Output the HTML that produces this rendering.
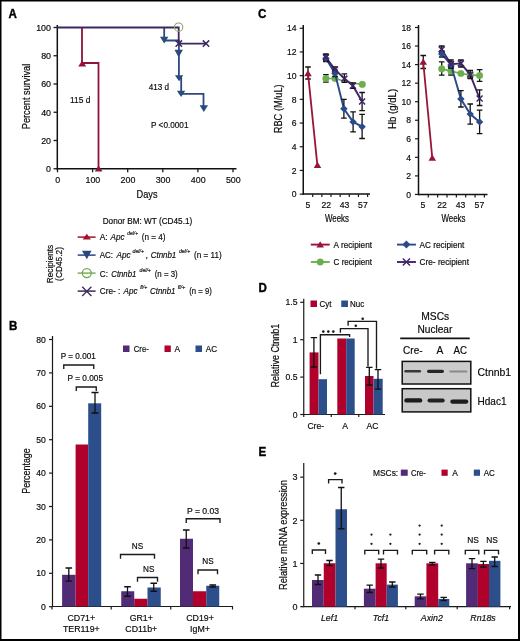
<!DOCTYPE html>
<html><head><meta charset="utf-8"><style>
html,body{margin:0;padding:0;background:#fff;}
svg{display:block;filter:blur(0.35px);font-family:"Liberation Sans", sans-serif;}
</style></head><body>
<svg width="520" height="641" viewBox="0 0 520 641">
<rect width="520" height="641" fill="#fff"/>
<rect x="0" y="0" width="520" height="1.5" fill="#000"/>
<rect x="0" y="0" width="1.5" height="641" fill="#000"/>
<rect x="518" y="0" width="2" height="641" fill="#000"/>
<rect x="0" y="639" width="520" height="2" fill="#000"/>
<text transform="translate(8.6 18.1) scale(1 1.08)" font-size="11.6" text-anchor="start" font-weight="bold" fill="#000" stroke="#000" stroke-width="0.35">A</text>
<line x1="57.3" y1="25" x2="57.3" y2="169.6" stroke="#111" stroke-width="1.5"/>
<line x1="56.5" y1="168.8" x2="236.5" y2="168.8" stroke="#111" stroke-width="1.5"/>
<line x1="53.5" y1="27.5" x2="57" y2="27.5" stroke="#1a1a1a" stroke-width="1.3"/>
<text x="51" y="30.8" font-size="8.9" text-anchor="end" stroke="#222" stroke-width="0.18" >100</text>
<line x1="53.5" y1="55.75" x2="57" y2="55.75" stroke="#1a1a1a" stroke-width="1.3"/>
<text x="51" y="59.05" font-size="8.9" text-anchor="end" stroke="#222" stroke-width="0.18" >80</text>
<line x1="53.5" y1="84.0" x2="57" y2="84.0" stroke="#1a1a1a" stroke-width="1.3"/>
<text x="51" y="87.3" font-size="8.9" text-anchor="end" stroke="#222" stroke-width="0.18" >60</text>
<line x1="53.5" y1="112.25" x2="57" y2="112.25" stroke="#1a1a1a" stroke-width="1.3"/>
<text x="51" y="115.55" font-size="8.9" text-anchor="end" stroke="#222" stroke-width="0.18" >40</text>
<line x1="53.5" y1="140.5" x2="57" y2="140.5" stroke="#1a1a1a" stroke-width="1.3"/>
<text x="51" y="143.8" font-size="8.9" text-anchor="end" stroke="#222" stroke-width="0.18" >20</text>
<line x1="53.5" y1="168.75" x2="57" y2="168.75" stroke="#1a1a1a" stroke-width="1.3"/>
<text x="51" y="172.05" font-size="8.9" text-anchor="end" stroke="#222" stroke-width="0.18" >0</text>
<line x1="57.5" y1="168.8" x2="57.5" y2="172.3" stroke="#1a1a1a" stroke-width="1.3"/>
<text x="57.8" y="183.3" font-size="8.9" text-anchor="middle" stroke="#222" stroke-width="0.18" >0</text>
<line x1="92.6" y1="168.8" x2="92.6" y2="172.3" stroke="#1a1a1a" stroke-width="1.3"/>
<text x="92.89999999999999" y="183.3" font-size="8.9" text-anchor="middle" stroke="#222" stroke-width="0.18" >100</text>
<line x1="127.7" y1="168.8" x2="127.7" y2="172.3" stroke="#1a1a1a" stroke-width="1.3"/>
<text x="128.0" y="183.3" font-size="8.9" text-anchor="middle" stroke="#222" stroke-width="0.18" >200</text>
<line x1="162.8" y1="168.8" x2="162.8" y2="172.3" stroke="#1a1a1a" stroke-width="1.3"/>
<text x="163.10000000000002" y="183.3" font-size="8.9" text-anchor="middle" stroke="#222" stroke-width="0.18" >300</text>
<line x1="197.9" y1="168.8" x2="197.9" y2="172.3" stroke="#1a1a1a" stroke-width="1.3"/>
<text x="198.20000000000002" y="183.3" font-size="8.9" text-anchor="middle" stroke="#222" stroke-width="0.18" >400</text>
<line x1="233.0" y1="168.8" x2="233.0" y2="172.3" stroke="#1a1a1a" stroke-width="1.3"/>
<text x="233.3" y="183.3" font-size="8.9" text-anchor="middle" stroke="#222" stroke-width="0.18" >500</text>
<text transform="translate(147 197.8) scale(1 1.12)" font-size="9.5" text-anchor="middle" textLength="21" lengthAdjust="spacingAndGlyphs" stroke="#222" stroke-width="0.18" >Days</text>
<text transform="translate(29.6 96.5) rotate(-90) scale(1 1.2)" font-size="9.3" text-anchor="middle" textLength="65.5" lengthAdjust="spacingAndGlyphs" stroke="#222" stroke-width="0.18" >Percent survival</text>
<path d="M82,27.5 V63 H98.5 V169" stroke="#8e1538" stroke-width="1.8" fill="none" />
<path d="M78.2,66.4 L86.2,66.4 L82.2,60.4 Z" fill="#8e1538"/>
<path d="M94.69999999999999,171.6 L102.5,171.6 L98.6,165.6 Z" fill="#8e1538"/>
<path d="M164.2,28 V40.5 H178.9 V78 H181.2 V93.8 H203.5 V108" stroke="#2b4a7e" stroke-width="1.8" fill="none" />
<path d="M160.0,36.8 L168.39999999999998,36.8 L164.2,43.6 Z" fill="#2b4a7e"/>
<path d="M174.5,49.8 L182.89999999999998,49.8 L178.7,57.4 Z" fill="#2b4a7e"/>
<path d="M174.9,75.3 L183.29999999999998,75.3 L179.1,81.2 Z" fill="#2b4a7e"/>
<path d="M176.9,90.8 L185.29999999999998,90.8 L181.1,97 Z" fill="#2b4a7e"/>
<path d="M199.60000000000002,105.3 L208.0,105.3 L203.8,112 Z" fill="#2b4a7e"/>
<path d="M57,27.5 H178.7 V43.6 H206" stroke="#3f2660" stroke-width="1.8" fill="none" />
<path d="M175.60000000000002,40.4 L182.0,46.800000000000004 M175.60000000000002,46.800000000000004 L182.0,40.4" stroke="#3f2660" stroke-width="1.5" fill="none" />
<path d="M202.8,40.4 L209.2,46.800000000000004 M202.8,46.800000000000004 L209.2,40.4" stroke="#3f2660" stroke-width="1.5" fill="none" />
<circle cx="178.6" cy="27.2" r="4.2" stroke="#86a86a" stroke-width="1.1" fill="none"/>
<text x="148.7" y="89.6" font-size="8.8" text-anchor="start" textLength="20.3" lengthAdjust="spacingAndGlyphs" stroke="#222" stroke-width="0.18" >413 d</text>
<text x="70" y="103.1" font-size="8.8" text-anchor="start" textLength="20.4" lengthAdjust="spacingAndGlyphs" stroke="#222" stroke-width="0.18" >115 d</text>
<text x="151" y="128.2" font-size="8.8" text-anchor="start" textLength="37.5" lengthAdjust="spacingAndGlyphs" stroke="#222" stroke-width="0.18" >P &lt;0.0001</text>
<text transform="translate(102.7 224.4) scale(1 1.05)" font-size="8.4" text-anchor="start" textLength="89.5" lengthAdjust="spacingAndGlyphs" stroke="#222" stroke-width="0.18" >Donor BM: WT (CD45.1)</text>
<line x1="77.7" y1="237.1" x2="95.6" y2="237.1" stroke="#a0122e" stroke-width="1.5"/>
<path d="M82.7,239.6 L90.89999999999999,239.6 L86.8,233.8 Z" fill="#a0122e"/>
<line x1="77.7" y1="255.1" x2="95.6" y2="255.1" stroke="#2a4680" stroke-width="1.5"/>
<path d="M82.0,250.7 L91.6,250.7 L86.8,259.2 Z" fill="#2a4680"/>
<line x1="77.7" y1="273.1" x2="95.6" y2="273.1" stroke="#72a852" stroke-width="1.4"/>
<circle cx="86.8" cy="273.1" r="4.5" stroke="#72a852" stroke-width="1.3" fill="none"/>
<line x1="77.7" y1="291.1" x2="95.6" y2="291.1" stroke="#3c2a5c" stroke-width="1.5"/>
<path d="M82.2,286.79999999999995 L91.39999999999999,296.0 M82.2,296.0 L91.39999999999999,286.79999999999995" stroke="#3c2a5c" stroke-width="1.3" fill="none" />
<text x="99.7" y="240.4" font-size="8.8" text-anchor="start" textLength="8" lengthAdjust="spacingAndGlyphs" stroke="#222" stroke-width="0.18" >A:</text>
<text x="110.6" y="240.4" font-size="8.8" text-anchor="start" font-style="italic" textLength="14" lengthAdjust="spacingAndGlyphs" stroke="#222" stroke-width="0.18" >Apc</text>
<text x="127.3" y="235.2" font-size="5.8" text-anchor="start" font-style="italic" textLength="10.7" lengthAdjust="spacingAndGlyphs" stroke="#222" stroke-width="0.18" >del/+</text>
<text x="141.7" y="240.4" font-size="8.8" text-anchor="start" textLength="23.8" lengthAdjust="spacingAndGlyphs" stroke="#222" stroke-width="0.18" >(n = 4)</text>
<text x="99.8" y="258.2" font-size="8.8" text-anchor="start" textLength="13.3" lengthAdjust="spacingAndGlyphs" stroke="#222" stroke-width="0.18" >AC:</text>
<text x="116.5" y="258.2" font-size="8.8" text-anchor="start" font-style="italic" textLength="14" lengthAdjust="spacingAndGlyphs" stroke="#222" stroke-width="0.18" >Apc</text>
<text x="132.5" y="253.2" font-size="5.8" text-anchor="start" font-style="italic" textLength="11.5" lengthAdjust="spacingAndGlyphs" stroke="#222" stroke-width="0.18" >del/+</text>
<text x="145.5" y="258.2" font-size="8.8" text-anchor="start" stroke="#222" stroke-width="0.18" >,</text>
<text x="150.7" y="258.2" font-size="8.8" text-anchor="start" font-style="italic" textLength="25.6" lengthAdjust="spacingAndGlyphs" stroke="#222" stroke-width="0.18" >Ctnnb1</text>
<text x="178.9" y="253.2" font-size="5.8" text-anchor="start" font-style="italic" textLength="11.3" lengthAdjust="spacingAndGlyphs" stroke="#222" stroke-width="0.18" >del/+</text>
<text x="194" y="258.2" font-size="8.8" text-anchor="start" textLength="27.7" lengthAdjust="spacingAndGlyphs" stroke="#222" stroke-width="0.18" >(n = 11)</text>
<text x="99.8" y="276.6" font-size="8.8" text-anchor="start" textLength="8.2" lengthAdjust="spacingAndGlyphs" stroke="#222" stroke-width="0.18" >C:</text>
<text x="111.3" y="276.6" font-size="8.8" text-anchor="start" font-style="italic" textLength="25" lengthAdjust="spacingAndGlyphs" stroke="#222" stroke-width="0.18" >Ctnnb1</text>
<text x="139.6" y="271.6" font-size="5.8" text-anchor="start" font-style="italic" textLength="11.2" lengthAdjust="spacingAndGlyphs" stroke="#222" stroke-width="0.18" >del/+</text>
<text x="154.7" y="276.6" font-size="8.8" text-anchor="start" textLength="23" lengthAdjust="spacingAndGlyphs" stroke="#222" stroke-width="0.18" >(n = 3)</text>
<text x="99.8" y="294.4" font-size="8.8" text-anchor="start" textLength="20.5" lengthAdjust="spacingAndGlyphs" stroke="#222" stroke-width="0.18" >Cre- :</text>
<text x="123.5" y="294.4" font-size="8.8" text-anchor="start" font-style="italic" textLength="14" lengthAdjust="spacingAndGlyphs" stroke="#222" stroke-width="0.18" >Apc</text>
<text x="140.2" y="289.4" font-size="5.8" text-anchor="start" font-style="italic" textLength="7" lengthAdjust="spacingAndGlyphs" stroke="#222" stroke-width="0.18" >fl/+</text>
<text x="150" y="294.4" font-size="8.8" text-anchor="start" font-style="italic" textLength="25.5" lengthAdjust="spacingAndGlyphs" stroke="#222" stroke-width="0.18" >Ctnnb1</text>
<text x="177.7" y="289.4" font-size="5.8" text-anchor="start" font-style="italic" textLength="7.6" lengthAdjust="spacingAndGlyphs" stroke="#222" stroke-width="0.18" >fl/+</text>
<text x="189.3" y="294.4" font-size="8.8" text-anchor="start" textLength="22.5" lengthAdjust="spacingAndGlyphs" stroke="#222" stroke-width="0.18" >(n = 9)</text>
<text transform="translate(52.6 264) rotate(-90) scale(1 1.15)" font-size="8.3" text-anchor="middle" textLength="38.4" lengthAdjust="spacingAndGlyphs" stroke="#222" stroke-width="0.18" >Recipients</text>
<text transform="translate(62 264) rotate(-90) scale(1 1.15)" font-size="8.3" text-anchor="middle" textLength="33.8" lengthAdjust="spacingAndGlyphs" stroke="#222" stroke-width="0.18" >(CD45.2)</text>
<text transform="translate(9.0 330.3) scale(1 1.08)" font-size="11.6" text-anchor="start" font-weight="bold" fill="#000" stroke="#000" stroke-width="0.35">B</text>
<line x1="52.5" y1="336" x2="52.5" y2="607" stroke="#1a1a1a" stroke-width="1.2"/>
<line x1="52" y1="606.5" x2="233" y2="606.5" stroke="#1a1a1a" stroke-width="1.2"/>
<line x1="49" y1="339.5" x2="52.5" y2="339.5" stroke="#1a1a1a" stroke-width="1.2"/>
<text x="45.8" y="342.6" font-size="8.6" text-anchor="end" stroke="#222" stroke-width="0.18" >80</text>
<line x1="49" y1="372.9" x2="52.5" y2="372.9" stroke="#1a1a1a" stroke-width="1.2"/>
<text x="45.8" y="376.0" font-size="8.6" text-anchor="end" stroke="#222" stroke-width="0.18" >70</text>
<line x1="49" y1="406.3" x2="52.5" y2="406.3" stroke="#1a1a1a" stroke-width="1.2"/>
<text x="45.8" y="409.40000000000003" font-size="8.6" text-anchor="end" stroke="#222" stroke-width="0.18" >60</text>
<line x1="49" y1="439.7" x2="52.5" y2="439.7" stroke="#1a1a1a" stroke-width="1.2"/>
<text x="45.8" y="442.8" font-size="8.6" text-anchor="end" stroke="#222" stroke-width="0.18" >50</text>
<line x1="49" y1="473.1" x2="52.5" y2="473.1" stroke="#1a1a1a" stroke-width="1.2"/>
<text x="45.8" y="476.20000000000005" font-size="8.6" text-anchor="end" stroke="#222" stroke-width="0.18" >40</text>
<line x1="49" y1="506.5" x2="52.5" y2="506.5" stroke="#1a1a1a" stroke-width="1.2"/>
<text x="45.8" y="509.6" font-size="8.6" text-anchor="end" stroke="#222" stroke-width="0.18" >30</text>
<line x1="49" y1="539.9" x2="52.5" y2="539.9" stroke="#1a1a1a" stroke-width="1.2"/>
<text x="45.8" y="543.0" font-size="8.6" text-anchor="end" stroke="#222" stroke-width="0.18" >20</text>
<line x1="49" y1="573.3" x2="52.5" y2="573.3" stroke="#1a1a1a" stroke-width="1.2"/>
<text x="45.8" y="576.4" font-size="8.6" text-anchor="end" stroke="#222" stroke-width="0.18" >10</text>
<line x1="49" y1="606.7" x2="52.5" y2="606.7" stroke="#1a1a1a" stroke-width="1.2"/>
<text x="45.8" y="609.8000000000001" font-size="8.6" text-anchor="end" stroke="#222" stroke-width="0.18" >0</text>
<line x1="52" y1="606.5" x2="52" y2="609.5" stroke="#1a1a1a" stroke-width="1.2"/>
<line x1="111.2" y1="606.5" x2="111.2" y2="609.5" stroke="#1a1a1a" stroke-width="1.2"/>
<line x1="170.75" y1="606.5" x2="170.75" y2="609.5" stroke="#1a1a1a" stroke-width="1.2"/>
<line x1="232.5" y1="606.5" x2="232.5" y2="609.5" stroke="#1a1a1a" stroke-width="1.2"/>
<rect x="62.1" y="574.8" width="13.499999999999993" height="31.700000000000045" fill="#512b76"/>
<rect x="75.6" y="444.5" width="12.600000000000009" height="162.0" fill="#b0002c"/>
<rect x="88.2" y="403.3" width="13.0" height="203.2" fill="#2c4f8c"/>
<rect x="121.25" y="591.25" width="13.0" height="15.25" fill="#512b76"/>
<rect x="134.25" y="598.75" width="13.25" height="7.75" fill="#b0002c"/>
<rect x="147.5" y="587.5" width="13.25" height="19.0" fill="#2c4f8c"/>
<rect x="180" y="538.75" width="13" height="67.75" fill="#512b76"/>
<rect x="193" y="591.25" width="13.25" height="15.25" fill="#b0002c"/>
<rect x="206.25" y="585.75" width="13.0" height="20.75" fill="#2c4f8c"/>
<path d="M68.8,568 V581.2 M65.5,568 H72.1 M65.5,581.2 H72.1" stroke="#111" stroke-width="1.3" fill="none" />
<path d="M95,392.5 V413 M91.5,392.5 H98.5 M91.5,413 H98.5" stroke="#111" stroke-width="1.3" fill="none" />
<path d="M127.5,586.75 V596.25 M124.2,586.75 H130.8 M124.2,596.25 H130.8" stroke="#111" stroke-width="1.3" fill="none" />
<path d="M153.75,583.25 V591.25 M150.45,583.25 H157.05 M150.45,591.25 H157.05" stroke="#111" stroke-width="1.3" fill="none" />
<path d="M186.25,530 V548 M182.95,530 H189.55 M182.95,548 H189.55" stroke="#111" stroke-width="1.3" fill="none" />
<path d="M212.75,585 V587 M209.45,585 H216.05 M209.45,587 H216.05" stroke="#111" stroke-width="1.3" fill="none" />
<path d="M63.75,369 V365 H93.75 V369" stroke="#1a1a1a" stroke-width="1.35" fill="none" />
<text x="78.25" y="359.2" font-size="8.2" text-anchor="middle" textLength="35" lengthAdjust="spacingAndGlyphs" stroke="#222" stroke-width="0.18" >P = 0.001</text>
<path d="M76.25,391 V387 H96.25 V391" stroke="#1a1a1a" stroke-width="1.35" fill="none" />
<text x="85.25" y="381.0" font-size="8.2" text-anchor="middle" textLength="35.5" lengthAdjust="spacingAndGlyphs" stroke="#222" stroke-width="0.18" >P = 0.005</text>
<path d="M120.5,558.75 V554.5 H154.5 V558.75" stroke="#1a1a1a" stroke-width="1.35" fill="none" />
<text x="137.5" y="549.2" font-size="8.2" text-anchor="middle" stroke="#222" stroke-width="0.18" >NS</text>
<path d="M137.5,581.75 V577.5 H157.5 V581.75" stroke="#1a1a1a" stroke-width="1.35" fill="none" />
<text x="148.75" y="571.7" font-size="8.2" text-anchor="middle" stroke="#222" stroke-width="0.18" >NS</text>
<path d="M186.25,523 V518.75 H220 V523" stroke="#1a1a1a" stroke-width="1.35" fill="none" />
<text x="203" y="513.5" font-size="8.2" text-anchor="middle" textLength="32.2" lengthAdjust="spacingAndGlyphs" stroke="#222" stroke-width="0.18" >P = 0.03</text>
<path d="M198,574.25 V570 H217.5 V574.25" stroke="#1a1a1a" stroke-width="1.35" fill="none" />
<text x="208" y="563.7" font-size="8.2" text-anchor="middle" stroke="#222" stroke-width="0.18" >NS</text>
<rect x="123" y="345.5" width="6.5" height="6.5" fill="#512b76"/>
<text x="133.75" y="351.8" font-size="8.4" text-anchor="start" textLength="15" lengthAdjust="spacingAndGlyphs" stroke="#222" stroke-width="0.18" >Cre-</text>
<rect x="164.5" y="345.5" width="6.3" height="6.5" fill="#b0002c"/>
<text x="174.5" y="351.8" font-size="8.4" text-anchor="start" stroke="#222" stroke-width="0.18" >A</text>
<rect x="195.5" y="345.5" width="6.5" height="6.5" fill="#2c4f8c"/>
<text x="205.75" y="351.8" font-size="8.4" text-anchor="start" textLength="11.3" lengthAdjust="spacingAndGlyphs" stroke="#222" stroke-width="0.18" >AC</text>
<text x="81.3" y="621.2" font-size="8.8" text-anchor="middle" stroke="#222" stroke-width="0.18" >CD71+</text>
<text x="81.3" y="632.0" font-size="8.8" text-anchor="middle" stroke="#222" stroke-width="0.18" >TER119+</text>
<text x="141.25" y="620.7" font-size="8.8" text-anchor="middle" stroke="#222" stroke-width="0.18" >GR1+</text>
<text x="141.25" y="632.0" font-size="8.8" text-anchor="middle" stroke="#222" stroke-width="0.18" >CD11b+</text>
<text x="200" y="620.7" font-size="8.8" text-anchor="middle" stroke="#222" stroke-width="0.18" >CD19+</text>
<text x="200" y="632.0" font-size="8.8" text-anchor="middle" stroke="#222" stroke-width="0.18" >IgM+</text>
<text transform="translate(29.6 471) rotate(-90) scale(1 1.2)" font-size="8.8" text-anchor="middle" textLength="45.5" lengthAdjust="spacingAndGlyphs" stroke="#222" stroke-width="0.18" >Percentage</text>
<text transform="translate(257.9 18.4) scale(1 1.08)" font-size="11.6" text-anchor="start" font-weight="bold" fill="#000" stroke="#000" stroke-width="0.35">C</text>
<line x1="303.25" y1="25" x2="303.25" y2="194.7" stroke="#111" stroke-width="1.5"/>
<line x1="302.75" y1="194" x2="370" y2="194" stroke="#111" stroke-width="1.5"/>
<line x1="299.75" y1="28.25" x2="303.25" y2="28.25" stroke="#1a1a1a" stroke-width="1.2"/>
<text x="296.5" y="31.45" font-size="8.6" text-anchor="end" stroke="#222" stroke-width="0.18" >14</text>
<line x1="299.75" y1="51.95" x2="303.25" y2="51.95" stroke="#1a1a1a" stroke-width="1.2"/>
<text x="296.5" y="55.150000000000006" font-size="8.6" text-anchor="end" stroke="#222" stroke-width="0.18" >12</text>
<line x1="299.75" y1="75.65" x2="303.25" y2="75.65" stroke="#1a1a1a" stroke-width="1.2"/>
<text x="296.5" y="78.85000000000001" font-size="8.6" text-anchor="end" stroke="#222" stroke-width="0.18" >10</text>
<line x1="299.75" y1="99.35" x2="303.25" y2="99.35" stroke="#1a1a1a" stroke-width="1.2"/>
<text x="296.5" y="102.55" font-size="8.6" text-anchor="end" stroke="#222" stroke-width="0.18" >8</text>
<line x1="299.75" y1="123.05" x2="303.25" y2="123.05" stroke="#1a1a1a" stroke-width="1.2"/>
<text x="296.5" y="126.25" font-size="8.6" text-anchor="end" stroke="#222" stroke-width="0.18" >6</text>
<line x1="299.75" y1="146.75" x2="303.25" y2="146.75" stroke="#1a1a1a" stroke-width="1.2"/>
<text x="296.5" y="149.95" font-size="8.6" text-anchor="end" stroke="#222" stroke-width="0.18" >4</text>
<line x1="299.75" y1="170.45" x2="303.25" y2="170.45" stroke="#1a1a1a" stroke-width="1.2"/>
<text x="296.5" y="173.64999999999998" font-size="8.6" text-anchor="end" stroke="#222" stroke-width="0.18" >2</text>
<line x1="299.75" y1="194.15" x2="303.25" y2="194.15" stroke="#1a1a1a" stroke-width="1.2"/>
<text x="296.5" y="197.35" font-size="8.6" text-anchor="end" stroke="#222" stroke-width="0.18" >0</text>
<line x1="312.7" y1="194" x2="312.7" y2="197" stroke="#1a1a1a" stroke-width="1.2"/>
<line x1="321.84999999999997" y1="194" x2="321.84999999999997" y2="197" stroke="#1a1a1a" stroke-width="1.2"/>
<line x1="331.0" y1="194" x2="331.0" y2="197" stroke="#1a1a1a" stroke-width="1.2"/>
<line x1="340.15" y1="194" x2="340.15" y2="197" stroke="#1a1a1a" stroke-width="1.2"/>
<line x1="349.3" y1="194" x2="349.3" y2="197" stroke="#1a1a1a" stroke-width="1.2"/>
<line x1="358.45" y1="194" x2="358.45" y2="197" stroke="#1a1a1a" stroke-width="1.2"/>
<line x1="367.6" y1="194" x2="367.6" y2="197" stroke="#1a1a1a" stroke-width="1.2"/>
<text x="308" y="208.3" font-size="8.6" text-anchor="middle" stroke="#222" stroke-width="0.18" >5</text>
<text x="326.3" y="208.3" font-size="8.6" text-anchor="middle" stroke="#222" stroke-width="0.18" >22</text>
<text x="344.6" y="208.3" font-size="8.6" text-anchor="middle" stroke="#222" stroke-width="0.18" >43</text>
<text x="362.9" y="208.3" font-size="8.6" text-anchor="middle" stroke="#222" stroke-width="0.18" >57</text>
<text transform="translate(281.8 108.8) rotate(-90) scale(1 1.15)" font-size="9.3" text-anchor="middle" textLength="49" lengthAdjust="spacingAndGlyphs" stroke="#222" stroke-width="0.18" >RBC (M/uL)</text>
<text transform="translate(337 222.1) scale(1 1.2)" font-size="8.8" text-anchor="middle" textLength="24" lengthAdjust="spacingAndGlyphs" stroke="#222" stroke-width="0.18" >Weeks</text>
<line x1="418.5" y1="25" x2="418.5" y2="195.2" stroke="#111" stroke-width="1.5"/>
<line x1="418.0" y1="194.5" x2="487.5" y2="194.5" stroke="#111" stroke-width="1.5"/>
<line x1="415.0" y1="27.5" x2="418.5" y2="27.5" stroke="#1a1a1a" stroke-width="1.2"/>
<text x="411" y="30.7" font-size="8.6" text-anchor="end" stroke="#222" stroke-width="0.18" >18</text>
<line x1="415.0" y1="46.05" x2="418.5" y2="46.05" stroke="#1a1a1a" stroke-width="1.2"/>
<text x="411" y="49.25" font-size="8.6" text-anchor="end" stroke="#222" stroke-width="0.18" >16</text>
<line x1="415.0" y1="64.6" x2="418.5" y2="64.6" stroke="#1a1a1a" stroke-width="1.2"/>
<text x="411" y="67.8" font-size="8.6" text-anchor="end" stroke="#222" stroke-width="0.18" >14</text>
<line x1="415.0" y1="83.15" x2="418.5" y2="83.15" stroke="#1a1a1a" stroke-width="1.2"/>
<text x="411" y="86.35000000000001" font-size="8.6" text-anchor="end" stroke="#222" stroke-width="0.18" >12</text>
<line x1="415.0" y1="101.7" x2="418.5" y2="101.7" stroke="#1a1a1a" stroke-width="1.2"/>
<text x="411" y="104.9" font-size="8.6" text-anchor="end" stroke="#222" stroke-width="0.18" >10</text>
<line x1="415.0" y1="120.25" x2="418.5" y2="120.25" stroke="#1a1a1a" stroke-width="1.2"/>
<text x="411" y="123.45" font-size="8.6" text-anchor="end" stroke="#222" stroke-width="0.18" >8</text>
<line x1="415.0" y1="138.8" x2="418.5" y2="138.8" stroke="#1a1a1a" stroke-width="1.2"/>
<text x="411" y="142.0" font-size="8.6" text-anchor="end" stroke="#222" stroke-width="0.18" >6</text>
<line x1="415.0" y1="157.35" x2="418.5" y2="157.35" stroke="#1a1a1a" stroke-width="1.2"/>
<text x="411" y="160.54999999999998" font-size="8.6" text-anchor="end" stroke="#222" stroke-width="0.18" >4</text>
<line x1="415.0" y1="175.9" x2="418.5" y2="175.9" stroke="#1a1a1a" stroke-width="1.2"/>
<text x="411" y="179.1" font-size="8.6" text-anchor="end" stroke="#222" stroke-width="0.18" >2</text>
<line x1="415.0" y1="194.45000000000002" x2="418.5" y2="194.45000000000002" stroke="#1a1a1a" stroke-width="1.2"/>
<text x="411" y="197.65" font-size="8.6" text-anchor="end" stroke="#222" stroke-width="0.18" >0</text>
<line x1="428.3" y1="194.5" x2="428.3" y2="197.5" stroke="#1a1a1a" stroke-width="1.2"/>
<line x1="437.65000000000003" y1="194.5" x2="437.65000000000003" y2="197.5" stroke="#1a1a1a" stroke-width="1.2"/>
<line x1="447.0" y1="194.5" x2="447.0" y2="197.5" stroke="#1a1a1a" stroke-width="1.2"/>
<line x1="456.35" y1="194.5" x2="456.35" y2="197.5" stroke="#1a1a1a" stroke-width="1.2"/>
<line x1="465.7" y1="194.5" x2="465.7" y2="197.5" stroke="#1a1a1a" stroke-width="1.2"/>
<line x1="475.05" y1="194.5" x2="475.05" y2="197.5" stroke="#1a1a1a" stroke-width="1.2"/>
<line x1="484.4" y1="194.5" x2="484.4" y2="197.5" stroke="#1a1a1a" stroke-width="1.2"/>
<text x="423" y="208.3" font-size="8.6" text-anchor="middle" stroke="#222" stroke-width="0.18" >5</text>
<text x="442" y="208.3" font-size="8.6" text-anchor="middle" stroke="#222" stroke-width="0.18" >22</text>
<text x="460.6" y="208.3" font-size="8.6" text-anchor="middle" stroke="#222" stroke-width="0.18" >43</text>
<text x="479.4" y="208.3" font-size="8.6" text-anchor="middle" stroke="#222" stroke-width="0.18" >57</text>
<text transform="translate(396 108.9) rotate(-90) scale(1 1.15)" font-size="9.3" text-anchor="middle" textLength="40" lengthAdjust="spacingAndGlyphs" stroke="#222" stroke-width="0.18" >Hb (g/dL)</text>
<text transform="translate(453.5 222.1) scale(1 1.2)" font-size="8.8" text-anchor="middle" textLength="24" lengthAdjust="spacingAndGlyphs" stroke="#222" stroke-width="0.18" >Weeks</text>
<path d="M308,67 V79 M305.2,67 H310.8 M305.2,79 H310.8" stroke="#111" stroke-width="1.3" fill="none" />
<path d="M308,73.1 L317.4,165.6" stroke="#9a1438" stroke-width="1.8" fill="none" />
<path d="M304.2,76.3 L311.8,76.3 L308,69.9 Z" fill="#9a1438"/>
<path d="M313.7,168.10000000000002 L321.3,168.10000000000002 L317.5,161.70000000000002 Z" fill="#9a1438"/>
<path d="M325.9,78.5 L335,78.5 L343.9,81 L352.9,83 L362.3,84.4" stroke="#6cae4e" stroke-width="1.7" fill="none" />
<path d="M325.9,74.6 V82.2 M323.09999999999997,74.6 H328.7 M323.09999999999997,82.2 H328.7" stroke="#111" stroke-width="1.3" fill="none" />
<circle cx="325.9" cy="78.5" r="3.3" stroke="#6cae4e" stroke-width="0.4" fill="#6cae4e"/>
<circle cx="335" cy="78.5" r="3.3" stroke="#6cae4e" stroke-width="0.4" fill="#6cae4e"/>
<circle cx="362.3" cy="84.4" r="3.3" stroke="#6cae4e" stroke-width="0.4" fill="#6cae4e"/>
<path d="M325.9,58.3 L335,73.4 L343.9,108.8 L353.1,121.9 L362.1,126.7" stroke="#2b4a88" stroke-width="1.9" fill="none" />
<path d="M325.9,57.2 L335,69.5 L344.4,78.6 L352.9,85.7 L362.1,101.5" stroke="#3f2468" stroke-width="1.9" fill="none" />
<path d="M325.9,55 V61.5 M323.09999999999997,55 H328.7 M323.09999999999997,61.5 H328.7" stroke="#111" stroke-width="1.3" fill="none" />
<path d="M335,70 V76.5 M332.2,70 H337.8 M332.2,76.5 H337.8" stroke="#111" stroke-width="1.3" fill="none" />
<path d="M343.9,99.4 V118.1 M341.09999999999997,99.4 H346.7 M341.09999999999997,118.1 H346.7" stroke="#111" stroke-width="1.3" fill="none" />
<path d="M353.1,111.8 V131.8 M350.3,111.8 H355.90000000000003 M350.3,131.8 H355.90000000000003" stroke="#111" stroke-width="1.3" fill="none" />
<path d="M362.1,114.4 V138.5 M359.3,114.4 H364.90000000000003 M359.3,138.5 H364.90000000000003" stroke="#111" stroke-width="1.3" fill="none" />
<path d="M325.9,54 V60.5 M323.09999999999997,54 H328.7 M323.09999999999997,60.5 H328.7" stroke="#111" stroke-width="1.3" fill="none" />
<path d="M335,66.8 V72 M332.2,66.8 H337.8 M332.2,72 H337.8" stroke="#111" stroke-width="1.3" fill="none" />
<path d="M344.4,73.9 V82.4 M341.59999999999997,73.9 H347.2 M341.59999999999997,82.4 H347.2" stroke="#111" stroke-width="1.3" fill="none" />
<path d="M352.9,82.8 V88.4 M350.09999999999997,82.8 H355.7 M350.09999999999997,88.4 H355.7" stroke="#111" stroke-width="1.3" fill="none" />
<path d="M362.1,92.5 V110.7 M359.3,92.5 H364.90000000000003 M359.3,110.7 H364.90000000000003" stroke="#111" stroke-width="1.3" fill="none" />
<path d="M325.9,54.599999999999994 L329.59999999999997,58.3 L325.9,62.0 L322.2,58.3 Z" fill="#2b4a88"/>
<path d="M335,69.7 L338.7,73.4 L335,77.10000000000001 L331.3,73.4 Z" fill="#2b4a88"/>
<path d="M343.9,105.1 L347.59999999999997,108.8 L343.9,112.5 L340.2,108.8 Z" fill="#2b4a88"/>
<path d="M353.1,118.2 L356.8,121.9 L353.1,125.60000000000001 L349.40000000000003,121.9 Z" fill="#2b4a88"/>
<path d="M362.1,123.0 L365.8,126.7 L362.1,130.4 L358.40000000000003,126.7 Z" fill="#2b4a88"/>
<path d="M322.9,54.2 L328.9,60.2 M322.9,60.2 L328.9,54.2" stroke="#3f2468" stroke-width="1.5" fill="none" />
<path d="M332.0,66.5 L338.0,72.5 M332.0,72.5 L338.0,66.5" stroke="#3f2468" stroke-width="1.5" fill="none" />
<path d="M341.4,75.6 L347.4,81.6 M341.4,81.6 L347.4,75.6" stroke="#3f2468" stroke-width="1.5" fill="none" />
<path d="M349.9,82.7 L355.9,88.7 M349.9,88.7 L355.9,82.7" stroke="#3f2468" stroke-width="1.5" fill="none" />
<path d="M359.1,98.5 L365.1,104.5 M359.1,104.5 L365.1,98.5" stroke="#3f2468" stroke-width="1.5" fill="none" />
<path d="M423.25,55.5 V68.5 M420.45,55.5 H426.05 M420.45,68.5 H426.05" stroke="#111" stroke-width="1.3" fill="none" />
<path d="M423.25,62 L432.3,158.3" stroke="#9a1438" stroke-width="1.8" fill="none" />
<path d="M419.45,64.8 L427.05,64.8 L423.25,58.4 Z" fill="#9a1438"/>
<path d="M428.5,160.8 L436.1,160.8 L432.3,154.4 Z" fill="#9a1438"/>
<path d="M441.7,68.9 L451,71.2 L460.9,73.5 L470.2,74.8 L479.6,75.6" stroke="#6cae4e" stroke-width="1.7" fill="none" />
<path d="M441.7,61.8 V75.1 M438.9,61.8 H444.5 M438.9,75.1 H444.5" stroke="#111" stroke-width="1.3" fill="none" />
<path d="M451,67 V75 M448.2,67 H453.8 M448.2,75 H453.8" stroke="#111" stroke-width="1.3" fill="none" />
<path d="M479.6,69.6 V81.3 M476.8,69.6 H482.40000000000003 M476.8,81.3 H482.40000000000003" stroke="#111" stroke-width="1.3" fill="none" />
<circle cx="441.7" cy="68.9" r="3.3" stroke="#6cae4e" stroke-width="0.4" fill="#6cae4e"/>
<circle cx="451" cy="71.2" r="3.3" stroke="#6cae4e" stroke-width="0.4" fill="#6cae4e"/>
<circle cx="460.9" cy="73.5" r="3.3" stroke="#6cae4e" stroke-width="0.4" fill="#6cae4e"/>
<circle cx="470.2" cy="74.8" r="3.3" stroke="#6cae4e" stroke-width="0.4" fill="#6cae4e"/>
<circle cx="479.6" cy="75.6" r="3.3" stroke="#6cae4e" stroke-width="0.4" fill="#6cae4e"/>
<path d="M441.7,54 L451,65 L460.9,99 L470.2,114.1 L479.6,121.9" stroke="#2b4a88" stroke-width="1.9" fill="none" />
<path d="M441.7,49.4 L451,64.2 L460.9,63.4 L470.2,74.6 L479.6,98.5" stroke="#3f2468" stroke-width="1.9" fill="none" />
<path d="M441.7,51 V57 M438.9,51 H444.5 M438.9,57 H444.5" stroke="#111" stroke-width="1.3" fill="none" />
<path d="M451,62 V68 M448.2,62 H453.8 M448.2,68 H453.8" stroke="#111" stroke-width="1.3" fill="none" />
<path d="M460.9,90.7 V107 M458.09999999999997,90.7 H463.7 M458.09999999999997,107 H463.7" stroke="#111" stroke-width="1.3" fill="none" />
<path d="M470.2,104 V124.2 M467.4,104 H473.0 M467.4,124.2 H473.0" stroke="#111" stroke-width="1.3" fill="none" />
<path d="M479.6,110.2 V133.6 M476.8,110.2 H482.40000000000003 M476.8,133.6 H482.40000000000003" stroke="#111" stroke-width="1.3" fill="none" />
<path d="M441.7,46 V52.5 M438.9,46 H444.5 M438.9,52.5 H444.5" stroke="#111" stroke-width="1.3" fill="none" />
<path d="M451,60 V68 M448.2,60 H453.8 M448.2,68 H453.8" stroke="#111" stroke-width="1.3" fill="none" />
<path d="M460.9,60 V67 M458.09999999999997,60 H463.7 M458.09999999999997,67 H463.7" stroke="#111" stroke-width="1.3" fill="none" />
<path d="M470.2,70.5 V78.5 M467.4,70.5 H473.0 M467.4,78.5 H473.0" stroke="#111" stroke-width="1.3" fill="none" />
<path d="M479.6,89.9 V105.5 M476.8,89.9 H482.40000000000003 M476.8,105.5 H482.40000000000003" stroke="#111" stroke-width="1.3" fill="none" />
<path d="M441.7,50.3 L445.4,54 L441.7,57.7 L438.0,54 Z" fill="#2b4a88"/>
<path d="M451,61.3 L454.7,65 L451,68.7 L447.3,65 Z" fill="#2b4a88"/>
<path d="M460.9,95.3 L464.59999999999997,99 L460.9,102.7 L457.2,99 Z" fill="#2b4a88"/>
<path d="M470.2,110.39999999999999 L473.9,114.1 L470.2,117.8 L466.5,114.1 Z" fill="#2b4a88"/>
<path d="M479.6,118.2 L483.3,121.9 L479.6,125.60000000000001 L475.90000000000003,121.9 Z" fill="#2b4a88"/>
<path d="M438.7,46.4 L444.7,52.4 M438.7,52.4 L444.7,46.4" stroke="#3f2468" stroke-width="1.5" fill="none" />
<path d="M448.0,61.2 L454.0,67.2 M448.0,67.2 L454.0,61.2" stroke="#3f2468" stroke-width="1.5" fill="none" />
<path d="M457.9,60.4 L463.9,66.4 M457.9,66.4 L463.9,60.4" stroke="#3f2468" stroke-width="1.5" fill="none" />
<path d="M467.2,71.6 L473.2,77.6 M467.2,77.6 L473.2,71.6" stroke="#3f2468" stroke-width="1.5" fill="none" />
<path d="M476.6,95.5 L482.6,101.5 M476.6,101.5 L482.6,95.5" stroke="#3f2468" stroke-width="1.5" fill="none" />
<line x1="310.8" y1="244.6" x2="329.7" y2="244.6" stroke="#9a1438" stroke-width="1.9"/>
<path d="M316.4,247.60000000000002 L324.0,247.60000000000002 L320.2,241.20000000000002 Z" fill="#9a1438"/>
<text x="333.6" y="247.8" font-size="8.6" text-anchor="start" textLength="38.4" lengthAdjust="spacingAndGlyphs" stroke="#222" stroke-width="0.18" >A recipient</text>
<line x1="397" y1="244.6" x2="415.9" y2="244.6" stroke="#2b4a88" stroke-width="1.9"/>
<path d="M406.4,240.6 L410.4,244.6 L406.4,248.6 L402.4,244.6 Z" fill="#2b4a88"/>
<text x="419.6" y="247.8" font-size="8.6" text-anchor="start" textLength="44.8" lengthAdjust="spacingAndGlyphs" stroke="#222" stroke-width="0.18" >AC recipient</text>
<line x1="310.8" y1="262" x2="329.7" y2="262" stroke="#6cae4e" stroke-width="1.9"/>
<circle cx="320.2" cy="262" r="3.3" stroke="#6cae4e" stroke-width="0.5" fill="#6cae4e"/>
<text x="333.6" y="265.2" font-size="8.6" text-anchor="start" textLength="38.4" lengthAdjust="spacingAndGlyphs" stroke="#222" stroke-width="0.18" >C recipient</text>
<line x1="397" y1="262" x2="415.9" y2="262" stroke="#3f2468" stroke-width="1.9"/>
<path d="M402.79999999999995,258.4 L410.0,265.6 M402.79999999999995,265.6 L410.0,258.4" stroke="#3f2468" stroke-width="1.4" fill="none" />
<text x="419.6" y="265.2" font-size="8.6" text-anchor="start" textLength="49.4" lengthAdjust="spacingAndGlyphs" stroke="#222" stroke-width="0.18" >Cre- recipient</text>
<text transform="translate(258.4 292) scale(1 1.08)" font-size="11.6" text-anchor="start" font-weight="bold" fill="#000" stroke="#000" stroke-width="0.35">D</text>
<line x1="303.75" y1="298.75" x2="303.75" y2="414.5" stroke="#1a1a1a" stroke-width="1.2"/>
<line x1="301.5" y1="414.5" x2="385" y2="414.5" stroke="#1a1a1a" stroke-width="1.2"/>
<line x1="300.25" y1="302.3" x2="303.75" y2="302.3" stroke="#1a1a1a" stroke-width="1.2"/>
<text x="297.5" y="305.40000000000003" font-size="8.6" text-anchor="end" stroke="#222" stroke-width="0.18" >1.5</text>
<line x1="300.25" y1="339.7" x2="303.75" y2="339.7" stroke="#1a1a1a" stroke-width="1.2"/>
<text x="297.5" y="342.8" font-size="8.6" text-anchor="end" stroke="#222" stroke-width="0.18" >1</text>
<line x1="300.25" y1="377.1" x2="303.75" y2="377.1" stroke="#1a1a1a" stroke-width="1.2"/>
<text x="297.5" y="380.20000000000005" font-size="8.6" text-anchor="end" stroke="#222" stroke-width="0.18" >0.5</text>
<line x1="300.25" y1="414.5" x2="303.75" y2="414.5" stroke="#1a1a1a" stroke-width="1.2"/>
<text x="297.5" y="417.6" font-size="8.6" text-anchor="end" stroke="#222" stroke-width="0.18" >0</text>
<line x1="303.75" y1="414.5" x2="303.75" y2="417" stroke="#1a1a1a" stroke-width="1.2"/>
<line x1="331.25" y1="414.5" x2="331.25" y2="417" stroke="#1a1a1a" stroke-width="1.2"/>
<line x1="358.75" y1="414.5" x2="358.75" y2="417" stroke="#1a1a1a" stroke-width="1.2"/>
<rect x="309.6" y="352.4" width="8.899999999999977" height="62.10000000000002" fill="#b0002c"/>
<rect x="318.5" y="379.2" width="8.5" height="35.30000000000001" fill="#2c4f8c"/>
<rect x="337.3" y="338.5" width="8.899999999999977" height="76.0" fill="#b0002c"/>
<rect x="346.2" y="338.5" width="8.5" height="76.0" fill="#2c4f8c"/>
<rect x="365" y="376" width="8.5" height="38.5" fill="#b0002c"/>
<rect x="373.5" y="378.8" width="9.199999999999989" height="35.69999999999999" fill="#2c4f8c"/>
<path d="M313.9,337.6 V367 M310.7,337.6 H317.09999999999997 M310.7,367 H317.09999999999997" stroke="#111" stroke-width="1.3" fill="none" />
<path d="M369.3,367.3 V385 M366.1,367.3 H372.5 M366.1,385 H372.5" stroke="#111" stroke-width="1.3" fill="none" />
<path d="M378,369.6 V389.2 M374.8,369.6 H381.2 M374.8,389.2 H381.2" stroke="#111" stroke-width="1.3" fill="none" />
<path d="M320.4,374.2 V334.7 H349.6 V337" stroke="#1a1a1a" stroke-width="1.35" fill="none" />
<path d="M340.4,332.8 V328.6 H368 V366.5" stroke="#1a1a1a" stroke-width="1.35" fill="none" />
<path d="M348.1,325.8 V321.4 H376.5 V368.8" stroke="#1a1a1a" stroke-width="1.35" fill="none" />
<circle cx="323.3" cy="331.6" r="1.3" fill="#1a1a1a"/>
<circle cx="328.3" cy="331.6" r="1.3" fill="#1a1a1a"/>
<circle cx="333.3" cy="331.6" r="1.3" fill="#1a1a1a"/>
<circle cx="355.8" cy="325.8" r="1.3" fill="#1a1a1a"/>
<circle cx="362.7" cy="318.8" r="1.3" fill="#1a1a1a"/>
<rect x="310.5" y="300.5" width="6.5" height="6.5" fill="#b0002c"/>
<text x="319.5" y="307.0" font-size="8.6" text-anchor="start" textLength="12" lengthAdjust="spacingAndGlyphs" stroke="#222" stroke-width="0.18" >Cyt</text>
<rect x="341.25" y="300.5" width="6.7" height="6.5" fill="#2c4f8c"/>
<text x="350" y="307.0" font-size="8.6" text-anchor="start" textLength="14.2" lengthAdjust="spacingAndGlyphs" stroke="#222" stroke-width="0.18" >Nuc</text>
<text x="315.75" y="429.3" font-size="8.6" text-anchor="middle" stroke="#222" stroke-width="0.18" >Cre-</text>
<text x="345" y="429.3" font-size="8.6" text-anchor="middle" stroke="#222" stroke-width="0.18" >A</text>
<text x="372.5" y="429.3" font-size="8.6" text-anchor="middle" stroke="#222" stroke-width="0.18" >AC</text>
<text transform="translate(278.6 355.6) rotate(-90) scale(1 1.12)" font-size="9" text-anchor="middle" textLength="63.7" lengthAdjust="spacingAndGlyphs" stroke="#222" stroke-width="0.18" >Relative Ctnnb1</text>
<text transform="translate(435.2 320.2) scale(1 1.12)" font-size="10" text-anchor="middle" textLength="28" lengthAdjust="spacingAndGlyphs" stroke="#222" stroke-width="0.18" >MSCs</text>
<text transform="translate(434.9 332.8) scale(1 1.12)" font-size="10" text-anchor="middle" textLength="35" lengthAdjust="spacingAndGlyphs" stroke="#222" stroke-width="0.18" >Nuclear</text>
<line x1="400.2" y1="338.4" x2="469.7" y2="338.4" stroke="#111" stroke-width="1.7"/>
<text transform="translate(412.8 353.8) scale(1 1.12)" font-size="10.2" text-anchor="middle" textLength="19.5" lengthAdjust="spacingAndGlyphs" stroke="#222" stroke-width="0.18" >Cre-</text>
<text transform="translate(439.8 353.8) scale(1 1.12)" font-size="10.2" text-anchor="middle" stroke="#222" stroke-width="0.18" >A</text>
<text transform="translate(460.2 353.8) scale(1 1.12)" font-size="10.2" text-anchor="middle" textLength="13.5" lengthAdjust="spacingAndGlyphs" stroke="#222" stroke-width="0.18" >AC</text>
<defs><filter id="bl" x="-20%" y="-50%" width="140%" height="200%"><feGaussianBlur stdDeviation="0.6"/></filter></defs>
<rect x="402.2" y="361.4" width="68.6" height="22.6" fill="#cbcbcb" stroke="#111" stroke-width="1.5"/>
<rect x="402.2" y="388.7" width="68.6" height="23.2" fill="#c8c8c8" stroke="#111" stroke-width="1.5"/>
<g filter="url(#bl)">
<rect x="404.3" y="369.9" width="16.8" height="2.6" rx="1.3" fill="#383838"/>
<rect x="427.0" y="369.7" width="17.0" height="3.2" rx="1.6" fill="#262626"/>
<rect x="449.3" y="370.4" width="18.2" height="2.2" rx="1.1" fill="#8a8a8a"/>
<rect x="404.3" y="398.2" width="18.0" height="4.4" rx="2.2" fill="#1c1c1c"/>
<rect x="427.5" y="398.4" width="17.2" height="4.0" rx="2.0" fill="#222"/>
<rect x="450.3" y="399.4" width="18.0" height="4.4" rx="2.2" fill="#1c1c1c"/>
</g>
<text x="477.5" y="375.6" font-size="10.4" text-anchor="start" textLength="33.6" lengthAdjust="spacingAndGlyphs" stroke="#222" stroke-width="0.18" >Ctnnb1</text>
<text x="477.5" y="404.7" font-size="10.2" text-anchor="start" textLength="29" lengthAdjust="spacingAndGlyphs" stroke="#222" stroke-width="0.18" >Hdac1</text>
<text transform="translate(258.4 455.7) scale(1 1.08)" font-size="11.6" text-anchor="start" font-weight="bold" fill="#000" stroke="#000" stroke-width="0.35">E</text>
<line x1="303.75" y1="463" x2="303.75" y2="607" stroke="#1a1a1a" stroke-width="1.2"/>
<line x1="301.5" y1="606.6" x2="511" y2="606.6" stroke="#1a1a1a" stroke-width="1.2"/>
<line x1="300.25" y1="477.15000000000003" x2="303.75" y2="477.15000000000003" stroke="#1a1a1a" stroke-width="1.2"/>
<text x="297.5" y="480.35" font-size="9" text-anchor="end" stroke="#222" stroke-width="0.18" >3</text>
<line x1="300.25" y1="520.3000000000001" x2="303.75" y2="520.3000000000001" stroke="#1a1a1a" stroke-width="1.2"/>
<text x="297.5" y="523.5000000000001" font-size="9" text-anchor="end" stroke="#222" stroke-width="0.18" >2</text>
<line x1="300.25" y1="563.45" x2="303.75" y2="563.45" stroke="#1a1a1a" stroke-width="1.2"/>
<text x="297.5" y="566.6500000000001" font-size="9" text-anchor="end" stroke="#222" stroke-width="0.18" >1</text>
<line x1="300.25" y1="606.6" x2="303.75" y2="606.6" stroke="#1a1a1a" stroke-width="1.2"/>
<text x="297.5" y="609.8000000000001" font-size="9" text-anchor="end" stroke="#222" stroke-width="0.18" >0</text>
<line x1="355" y1="606.6" x2="355" y2="609.3" stroke="#1a1a1a" stroke-width="1.2"/>
<line x1="405.8" y1="606.6" x2="405.8" y2="609.3" stroke="#1a1a1a" stroke-width="1.2"/>
<line x1="457.2" y1="606.6" x2="457.2" y2="609.3" stroke="#1a1a1a" stroke-width="1.2"/>
<line x1="509.6" y1="606.6" x2="509.6" y2="609.3" stroke="#1a1a1a" stroke-width="1.2"/>
<rect x="312" y="580" width="11.75" height="26.600000000000023" fill="#512b76"/>
<rect x="323.75" y="563.25" width="11.75" height="43.35000000000002" fill="#b0002c"/>
<rect x="335.5" y="509.25" width="11.5" height="97.35000000000002" fill="#2c4f8c"/>
<rect x="363.9" y="588.7" width="11.700000000000045" height="17.899999999999977" fill="#512b76"/>
<rect x="375.6" y="563.3" width="11.099999999999966" height="43.30000000000007" fill="#b0002c"/>
<rect x="386.7" y="584.6" width="11.199999999999989" height="22.0" fill="#2c4f8c"/>
<rect x="414.7" y="596.3" width="11.699999999999989" height="10.300000000000068" fill="#512b76"/>
<rect x="426.4" y="563.3" width="11.800000000000011" height="43.30000000000007" fill="#b0002c"/>
<rect x="438.2" y="598.9" width="11.100000000000023" height="7.7000000000000455" fill="#2c4f8c"/>
<rect x="466.1" y="563.3" width="11.799999999999955" height="43.30000000000007" fill="#512b76"/>
<rect x="477.9" y="564" width="11.100000000000023" height="42.60000000000002" fill="#b0002c"/>
<rect x="489" y="560.8" width="11.399999999999977" height="45.80000000000007" fill="#2c4f8c"/>
<path d="M318,575 V584.5 M314.8,575 H321.2 M314.8,584.5 H321.2" stroke="#111" stroke-width="1.3" fill="none" />
<path d="M329.5,560.5 V565.5 M326.3,560.5 H332.7 M326.3,565.5 H332.7" stroke="#111" stroke-width="1.3" fill="none" />
<path d="M341.25,487.5 V528.75 M338.05,487.5 H344.45 M338.05,528.75 H344.45" stroke="#111" stroke-width="1.3" fill="none" />
<path d="M369.7,585.2 V592.5 M366.5,585.2 H372.9 M366.5,592.5 H372.9" stroke="#111" stroke-width="1.3" fill="none" />
<path d="M381,559.2 V568 M377.8,559.2 H384.2 M377.8,568 H384.2" stroke="#111" stroke-width="1.3" fill="none" />
<path d="M392.3,582 V587 M389.1,582 H395.5 M389.1,587 H395.5" stroke="#111" stroke-width="1.3" fill="none" />
<path d="M420.5,594.1 V598.9 M417.3,594.1 H423.7 M417.3,598.9 H423.7" stroke="#111" stroke-width="1.3" fill="none" />
<path d="M432.3,562.4 V565 M429.1,562.4 H435.5 M429.1,565 H435.5" stroke="#111" stroke-width="1.3" fill="none" />
<path d="M443.7,597.3 V600.5 M440.5,597.3 H446.9 M440.5,600.5 H446.9" stroke="#111" stroke-width="1.3" fill="none" />
<path d="M472,558.6 V568.7 M468.8,558.6 H475.2 M468.8,568.7 H475.2" stroke="#111" stroke-width="1.3" fill="none" />
<path d="M483.4,561.4 V567 M480.2,561.4 H486.59999999999997 M480.2,567 H486.59999999999997" stroke="#111" stroke-width="1.3" fill="none" />
<path d="M494.7,557 V566.5 M491.5,557 H497.9 M491.5,566.5 H497.9" stroke="#111" stroke-width="1.3" fill="none" />
<path d="M312.3,554 V550 H325.5 V554" stroke="#1a1a1a" stroke-width="1.35" fill="none" />
<circle cx="318.8" cy="543.5" r="1.35" fill="#1a1a1a"/>
<path d="M328.6,483.6 V479.6 H342 V483.6" stroke="#1a1a1a" stroke-width="1.35" fill="none" />
<circle cx="335.2" cy="473.6" r="1.35" fill="#1a1a1a"/>
<path d="M364.8,554.4 V550.4 H378.7 V554.4" stroke="#1a1a1a" stroke-width="1.35" fill="none" />
<path d="M383.5,554.4 V550.4 H397.5 V554.4" stroke="#1a1a1a" stroke-width="1.35" fill="none" />
<path d="M412.3,554.4 V550.4 H426.7 V554.4" stroke="#1a1a1a" stroke-width="1.35" fill="none" />
<path d="M434.6,554.4 V550.4 H448.8 V554.4" stroke="#1a1a1a" stroke-width="1.35" fill="none" />
<path d="M465.3,554.4 V550.4 H478.8 V554.4" stroke="#1a1a1a" stroke-width="1.35" fill="none" />
<path d="M484.5,554.4 V550.4 H498.5 V554.4" stroke="#1a1a1a" stroke-width="1.35" fill="none" />
<circle cx="371.5" cy="534.6" r="1.15" fill="#1a1a1a"/>
<circle cx="371.5" cy="543.8" r="1.15" fill="#1a1a1a"/>
<circle cx="390.4" cy="534.6" r="1.15" fill="#1a1a1a"/>
<circle cx="390.4" cy="543.8" r="1.15" fill="#1a1a1a"/>
<circle cx="419.6" cy="525.6" r="1.15" fill="#1a1a1a"/>
<circle cx="419.6" cy="534.6" r="1.15" fill="#1a1a1a"/>
<circle cx="419.6" cy="543.8" r="1.15" fill="#1a1a1a"/>
<circle cx="441.7" cy="525.6" r="1.15" fill="#1a1a1a"/>
<circle cx="441.7" cy="534.6" r="1.15" fill="#1a1a1a"/>
<circle cx="441.7" cy="543.8" r="1.15" fill="#1a1a1a"/>
<text x="473.1" y="543.4" font-size="8.4" text-anchor="middle" stroke="#222" stroke-width="0.18" >NS</text>
<text x="492.1" y="543.4" font-size="8.4" text-anchor="middle" stroke="#222" stroke-width="0.18" >NS</text>
<text x="329.5" y="620.7" font-size="8.8" text-anchor="middle" font-style="italic" stroke="#222" stroke-width="0.18" >Lef1</text>
<text x="381" y="621.2" font-size="8.8" text-anchor="middle" font-style="italic" stroke="#222" stroke-width="0.18" >Tcf1</text>
<text x="431.8" y="621.2" font-size="8.8" text-anchor="middle" font-style="italic" stroke="#222" stroke-width="0.18" >Axin2</text>
<text x="483" y="621.2" font-size="8.8" text-anchor="middle" font-style="italic" stroke="#222" stroke-width="0.18" >Rn18s</text>
<text transform="translate(286.6 535) rotate(-90) scale(1 1.12)" font-size="9.2" text-anchor="middle" textLength="110" lengthAdjust="spacingAndGlyphs" stroke="#222" stroke-width="0.18" >Relative mRNA expression</text>
<text x="373" y="475.5" font-size="8.4" text-anchor="start" textLength="25.2" lengthAdjust="spacingAndGlyphs" stroke="#222" stroke-width="0.18" >MSCs:</text>
<rect x="400.8" y="469.6" width="6.9" height="6.2" fill="#512b76"/>
<text x="410.9" y="475.5" font-size="8.4" text-anchor="start" textLength="15" lengthAdjust="spacingAndGlyphs" stroke="#222" stroke-width="0.18" >Cre-</text>
<rect x="441.5" y="469.6" width="6.2" height="6.2" fill="#b0002c"/>
<text x="452.3" y="475.5" font-size="8.4" text-anchor="start" stroke="#222" stroke-width="0.18" >A</text>
<rect x="473.8" y="469.6" width="6.2" height="6.2" fill="#2c4f8c"/>
<text x="483.7" y="475.5" font-size="8.4" text-anchor="start" textLength="11.1" lengthAdjust="spacingAndGlyphs" stroke="#222" stroke-width="0.18" >AC</text>
</svg></body></html>
